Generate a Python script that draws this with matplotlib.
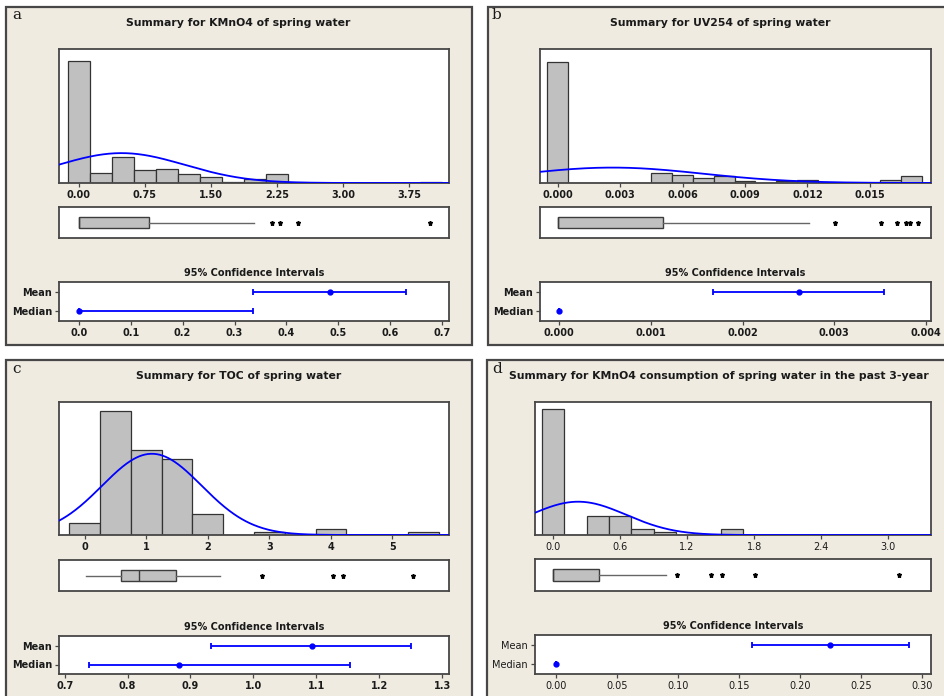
import numpy as np
import matplotlib
matplotlib.use("Agg")
import matplotlib.pyplot as plt
from matplotlib.patches import Rectangle

# ---------------- data ----------------
# (a) KMnO4 of spring water
a_title = "Summary for KMnO4 of spring water"
a_bin_centers = [0.00, 0.25, 0.50, 0.75, 1.00, 1.25, 1.50, 1.75, 2.00,
                 2.25, 2.50, 2.75, 3.00, 3.25, 3.50, 3.75, 4.00]
a_counts = [85, 7, 18, 9, 10, 6, 4, 1, 3, 6, 0, 0, 0, 0, 0, 0, 1]
a_bin_width = 0.25
a_fit = (0.483, 0.72)  # normal fit: mean, sd
a_box = dict(whislo=0.0, q1=0.0, med=0.0, q3=0.80, whishi=1.99)
a_fliers = [2.19, 2.29, 2.49, 3.99]
a_ci_mean = (0.336, 0.484, 0.630)     # low, estimate, high
a_ci_median = (0.0, 0.0, 0.336)
a_hist_ticks = [0.0, 0.75, 1.5, 2.25, 3.0, 3.75]
a_hist_labels = ["0.00", "0.75", "1.50", "2.25", "3.00", "3.75"]
a_ci_ticks = [0.0, 0.1, 0.2, 0.3, 0.4, 0.5, 0.6, 0.7]
a_ci_labels = ["0.0", "0.1", "0.2", "0.3", "0.4", "0.5", "0.6", "0.7"]

# (b) UV254 of spring water
b_title = "Summary for UV254 of spring water"
b_bin_centers = [0.000, 0.001, 0.002, 0.003, 0.004, 0.005, 0.006, 0.007, 0.008,
                 0.009, 0.010, 0.011, 0.012, 0.013, 0.014, 0.015, 0.016, 0.017]
b_counts = [72, 0, 0, 0, 0, 6, 5, 3, 4, 1, 0, 1, 2, 0, 0, 0, 2, 4]
b_bin_width = 0.001
b_fit = (0.00263, 0.00434)
b_box = dict(whislo=0.0, q1=0.0, med=0.0, q3=0.00504, whishi=0.01208)
b_fliers = [0.01332, 0.01553, 0.01631, 0.01673, 0.01695, 0.01732]
b_ci_mean = (0.001673, 0.002611, 0.003542)
b_ci_median = (0.0, 0.0, 0.0)
b_hist_ticks = [0.0, 0.003, 0.006, 0.009, 0.012, 0.015]
b_hist_labels = ["0.000", "0.003", "0.006", "0.009", "0.012", "0.015"]
b_ci_ticks = [0.0, 0.001, 0.002, 0.003, 0.004]
b_ci_labels = ["0.000", "0.001", "0.002", "0.003", "0.004"]

# (c) TOC of spring water
c_title = "Summary for TOC of spring water"
c_bin_centers = [0.0, 0.5, 1.0, 1.5, 2.0, 2.5, 3.0, 3.5, 4.0, 4.5, 5.0, 5.5]
c_counts = [4, 41, 28, 25, 7, 0, 1, 0, 2, 0, 0, 1]
c_bin_width = 0.5
c_fit = (1.09, 0.81)
c_box = dict(whislo=0.016, q1=0.585, med=0.883, q3=1.475, whishi=2.195)
c_fliers = [2.878, 4.03, 4.20, 5.34]
c_ci_mean = (0.932, 1.093, 1.251)
c_ci_median = (0.738, 0.882, 1.153)
c_hist_ticks = [0, 1, 2, 3, 4, 5]
c_hist_labels = ["0", "1", "2", "3", "4", "5"]
c_ci_ticks = [0.7, 0.8, 0.9, 1.0, 1.1, 1.2, 1.3]
c_ci_labels = ["0.7", "0.8", "0.9", "1.0", "1.1", "1.2", "1.3"]

# (d) KMnO4 consumption, past 3 years
d_title = "Summary for KMnO4 consumption of spring water in the past 3-year"
d_bin_centers = [0.0, 0.2, 0.4, 0.6, 0.8, 1.0, 1.2, 1.4, 1.6, 1.8, 2.0,
                 2.2, 2.4, 2.6, 2.8, 3.0, 3.2]
d_counts = [40, 0, 6, 6, 2, 1, 0, 0, 2, 0, 0, 0, 0, 0, 0, 0, 0]
d_bin_width = 0.2
d_fit = (0.225, 0.43)
d_box = dict(whislo=0.0, q1=0.0, med=0.0, q3=0.41, whishi=1.01)
d_fliers = [1.11, 1.41, 1.51, 1.81, 3.10]
d_ci_mean = (0.1603, 0.2247, 0.2890)
d_ci_median = (0.0, 0.0, 0.0)
d_hist_ticks = [0.0, 0.6, 1.2, 1.8, 2.4, 3.0]
d_hist_labels = ["0.0", "0.6", "1.2", "1.8", "2.4", "3.0"]
d_ci_ticks = [0.0, 0.05, 0.10, 0.15, 0.20, 0.25, 0.30]
d_ci_labels = ["0.00", "0.05", "0.10", "0.15", "0.20", "0.25", "0.30"]

ci_rows = ["Mean", "Median"]

# ---------------- styling ----------------
W, H = 945, 696
fig = plt.figure(figsize=(W / 100, H / 100), dpi=100)
fig.patch.set_facecolor("white")

PANEL_BG = "#EFEBE1"
FRAME = "#474747"
BAR = "#C0C0C0"
BLUE = "#0000FF"
TXT = "#1a1a1a"


def fx(x):
    return x / W


def fy(y):
    return 1 - y / H


def add_ax(rect):
    x0, y0, x1, y1 = rect
    ax = fig.add_axes([fx(x0), fy(y1), (x1 - x0) / W, (y1 - y0) / H])
    ax.set_facecolor("white")
    for s in ax.spines.values():
        s.set_color(FRAME)
        s.set_linewidth(1.3)
    return ax


def style_ticks(ax, weight):
    ax.tick_params(direction="out", length=3, width=0.9, color=FRAME,
                   pad=2, labelsize=7, labelcolor=TXT)
    for lab in ax.get_xticklabels() + ax.get_yticklabels():
        lab.set_fontweight(weight)


def draw_panel(panel, hist_r, box_r, ci_r, title_xy, letter_xy, letter,
               title, centers, counts, bw, fit, box, fliers, hist_xlim, ytop,
               hticks, hlabels, ci_mean, ci_median, ci_xlim, cticks, clabels,
               weight):
    x0, y0, x1, y1 = panel
    fig.add_artist(Rectangle((fx(x0), fy(y1)), (x1 - x0) / W, (y1 - y0) / H,
                             transform=fig.transFigure, facecolor=PANEL_BG,
                             edgecolor=FRAME, linewidth=1.6, zorder=-1))
    fig.text(fx(letter_xy[0]), fy(letter_xy[1]), letter, family="DejaVu Serif",
             fontsize=11, ha="left", va="center", color=TXT)
    fig.text(fx(title_xy[0]), fy(title_xy[1]), title, fontsize=7.8,
             fontweight="bold", ha="center", va="center", color=TXT)

    # histogram with fitted normal curve
    ax = add_ax(hist_r)
    ax.bar(centers, counts, width=bw, color=BAR, edgecolor="#333333",
           linewidth=0.9, zorder=2)
    mu, sd = fit
    n = sum(counts)
    xs = np.linspace(hist_xlim[0], hist_xlim[1], 400)
    ys = n * bw * np.exp(-0.5 * ((xs - mu) / sd) ** 2) / (sd * np.sqrt(2 * np.pi))
    ax.plot(xs, ys, color=BLUE, linewidth=1.3, zorder=3)
    ax.set_xlim(*hist_xlim)
    ax.set_ylim(0, max(counts) * ytop)
    ax.set_yticks([])
    ax.set_xticks(hticks)
    ax.set_xticklabels(hlabels)
    style_ticks(ax, weight)

    # boxplot
    bx = add_ax(box_r)
    stats = dict(box)
    stats["fliers"] = fliers
    kw = dict(positions=[0.5], widths=0.38, patch_artist=True, showcaps=False,
              boxprops=dict(facecolor=BAR, edgecolor="#3c3c3c", linewidth=1.0),
              whiskerprops=dict(color="#666666", linewidth=1.0),
              medianprops=dict(color="#3c3c3c", linewidth=1.0),
              flierprops=dict(marker="*", markersize=3.6, markerfacecolor="black",
                              markeredgecolor="black", linestyle="none"))
    try:
        bx.bxp([stats], orientation="horizontal", **kw)
    except TypeError:
        bx.bxp([stats], vert=False, **kw)
    bx.set_xlim(*hist_xlim)
    bx.set_ylim(0, 1)
    bx.set_xticks([])
    bx.set_yticks([])

    # confidence intervals
    cx = add_ax(ci_r)
    for yv, (lo, est, hi) in zip([2, 1], [ci_mean, ci_median]):
        cx.errorbar([est], [yv], xerr=[[est - lo], [hi - est]], fmt="o",
                    color=BLUE, markersize=3.5, capsize=2.5, elinewidth=1.3,
                    capthick=1.3)
    cx.set_xlim(*ci_xlim)
    cx.set_ylim(0.5, 2.5)
    cx.set_yticks([2, 1])
    cx.set_yticklabels(ci_rows)
    cx.set_xticks(cticks)
    cx.set_xticklabels(clabels)
    style_ticks(cx, weight)
    fig.text(fx((ci_r[0] + ci_r[2]) / 2), fy(ci_r[1] - 9),
             "95% Confidence Intervals", fontsize=7, fontweight="bold",
             ha="center", va="center", color=TXT)


draw_panel((6, 7, 472, 345), (59, 49, 449, 183), (59, 207, 449, 238),
           (59, 282, 449, 321), (238, 23), (12, 15), "a",
           a_title, a_bin_centers, a_counts, a_bin_width, a_fit, a_box, a_fliers,
           (-0.227, 4.205), 1.096, a_hist_ticks, a_hist_labels,
           a_ci_mean, a_ci_median, (-0.038, 0.713), a_ci_ticks, a_ci_labels, "bold")

draw_panel((488, 7, 950, 345), (540, 49, 931, 183), (540, 207, 931, 238),
           (540, 282, 931, 321), (720, 23), (492, 15), "b",
           b_title, b_bin_centers, b_counts, b_bin_width, b_fit, b_box, b_fliers,
           (-0.00085, 0.01794), 1.11, b_hist_ticks, b_hist_labels,
           b_ci_mean, b_ci_median, (-0.00021, 0.004055), b_ci_ticks, b_ci_labels, "bold")

draw_panel((6, 360, 472, 700), (59, 402, 449, 535), (59, 560, 449, 591),
           (59, 636, 449, 674), (239, 376), (12, 369), "c",
           c_title, c_bin_centers, c_counts, c_bin_width, c_fit, c_box, c_fliers,
           (-0.42, 5.92), 1.072, c_hist_ticks, c_hist_labels,
           c_ci_mean, c_ci_median, (0.691, 1.311), c_ci_ticks, c_ci_labels, "bold")

draw_panel((487, 360, 950, 700), (535, 402, 931, 535), (535, 559, 931, 591),
           (535, 635, 931, 674), (719, 376), (492, 369), "d",
           d_title, d_bin_centers, d_counts, d_bin_width, d_fit, d_box, d_fliers,
           (-0.161, 3.382), 1.056, d_hist_ticks, d_hist_labels,
           d_ci_mean, d_ci_median, (-0.0176, 0.3074), d_ci_ticks, d_ci_labels, "normal")

fig.savefig("out.png", dpi=100, facecolor=fig.get_facecolor())
